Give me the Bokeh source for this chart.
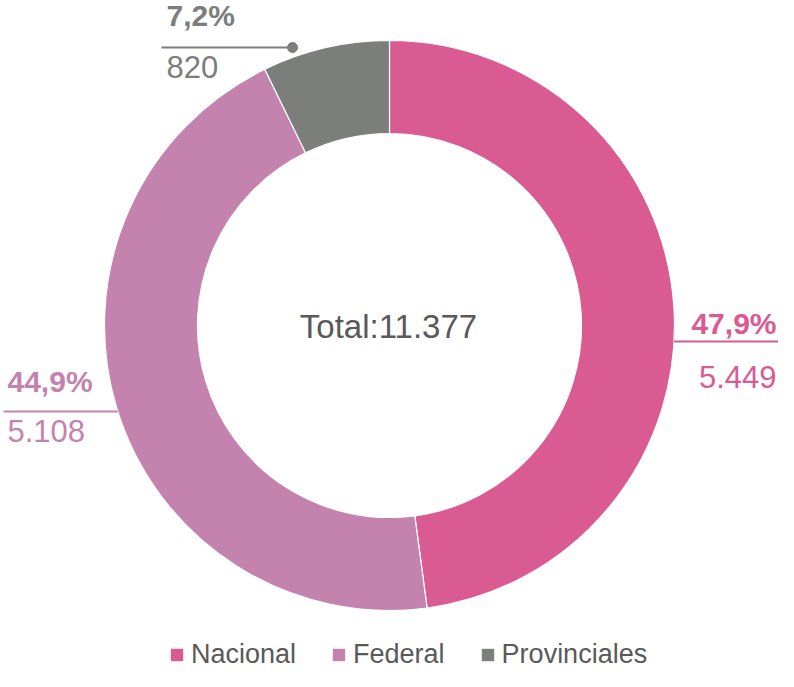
import math
from bokeh.plotting import figure
from bokeh.models import ColumnDataSource, Range1d, Legend, LegendItem
from bokeh.core.properties import value
from bokeh.embed import file_html
from bokeh.resources import INLINE

# ---- data ----
categories = ["Nacional", "Federal", "Provinciales"]
counts = [5449, 5108, 820]
pct_labels = ["47,9%", "44,9%", "7,2%"]
value_labels = ["5.449", "5.108", "820"]
total_label = "Total:11.377"
colors = ["#D95B92", "#C483AE", "#7C7E7B"]

# ---- geometry / layout ----
R_OUT = 285
R_IN = 192
FONT = "Liberation Sans"
TEXT_GRAY = "#595959"

total = sum(counts)
starts, ends = [], []
cum = 0.0
for c in counts:
    f0 = cum / total
    cum += c
    f1 = cum / total
    # clockwise from 12 o'clock
    starts.append(math.pi / 2 - 2 * math.pi * f1)
    ends.append(math.pi / 2 - 2 * math.pi * f0)

src = ColumnDataSource(dict(cat=categories, start=starts, end=ends, color=colors))

p = figure(width=778, height=671, output_backend="svg", toolbar_location=None,
           x_range=Range1d(-389, 389), y_range=Range1d(-346, 325),
           x_axis_location=None, y_axis_location=None, min_border=0,
           outline_line_color=None, background_fill_color="white",
           border_fill_color="white", tools="")
p.grid.visible = False

r = p.annular_wedge(x=0, y=0, inner_radius=R_IN, outer_radius=R_OUT,
                    start_angle="start", end_angle="end", direction="anticlock",
                    fill_color="color", line_color="white", line_width=1.2,
                    source=src)

# label placement per slice
layout = [
    dict(align="right", x=387, py=2.5, vy=-51, ly=-16, lx=(None, 400), dot=False),
    dict(align="left", x=-382, py=-56, vy=-105, ly=-86, lx=(-386, None), dot=False),
    dict(align="left", x=-223, py=310.5, vy=258.5, ly=278, lx=(-228, -97), dot=True),
]

for i, lay in enumerate(layout):
    col = colors[i]
    x0, x1 = lay["lx"]
    ly = lay["ly"]
    edge = math.sqrt(R_OUT ** 2 - ly ** 2) if abs(ly) < R_OUT else 0
    if x0 is None:
        x0 = edge
    if x1 is None:
        x1 = -edge
    p.segment(x0=[x0], y0=[ly], x1=[x1], y1=[ly], line_color=col, line_width=2)
    if lay["dot"]:
        p.scatter(x=[x1], y=[ly], size=10, fill_color=col, line_color=col)
    p.text(x=[lay["x"]], y=[lay["py"]], text=[pct_labels[i]],
           text_font=value(FONT), text_font_style="bold", text_font_size="30px",
           text_color=col, text_align=lay["align"], text_baseline="middle")
    p.text(x=[lay["x"]], y=[lay["vy"]], text=[value_labels[i]],
           text_font=value(FONT), text_font_size="31px",
           text_color=col, text_align=lay["align"], text_baseline="middle")

p.text(x=[-1], y=[-0.5], text=[total_label], text_font=value(FONT),
       text_font_size="33px", text_color=TEXT_GRAY, text_align="center",
       text_baseline="middle")

items = [LegendItem(label=categories[i], renderers=[r], index=i) for i in range(len(categories))]
legend = Legend(items=items, orientation="horizontal", location=(168, 1),
                label_text_font=FONT, label_text_font_size="27px",
                label_text_color=TEXT_GRAY, glyph_width=17, glyph_height=17,
                label_standoff=6, spacing=34, padding=0, margin=0,
                border_line_alpha=0, background_fill_alpha=0)
p.add_layout(legend)

open("out.html", "w").write(file_html(p, INLINE))
